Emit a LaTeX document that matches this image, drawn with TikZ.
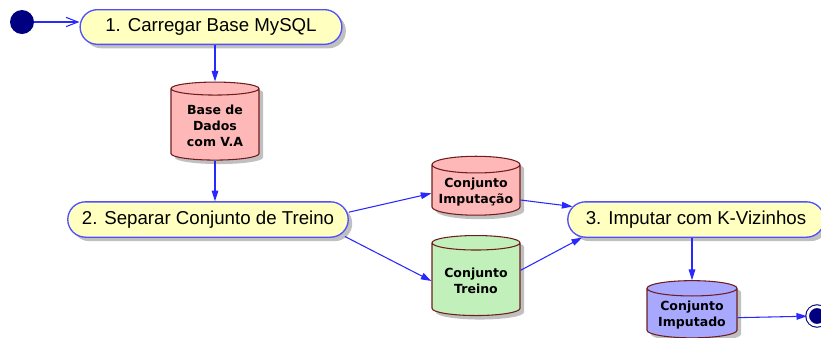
\documentclass[tikz,border=0pt]{standalone}
\usepackage{fontspec}
\setmainfont{Liberation Sans}
\newfontfamily\dbfont{DejaVu Sans}
\usetikzlibrary{shapes.geometric, shapes.misc, shadows, arrows.meta}
\definecolor{boxblue}{RGB}{80,80,255}
\definecolor{boxfill}{RGB}{255,255,192}
\definecolor{arrowblue}{RGB}{40,40,255}
\definecolor{shadowgray}{RGB}{192,192,192}
\definecolor{storeborder}{RGB}{110,30,30}
\definecolor{storepink}{RGB}{255,184,184}
\definecolor{storegreen}{RGB}{194,240,186}
\definecolor{storeblue}{RGB}{168,168,255}
\definecolor{navy}{RGB}{0,0,128}
\tikzset{
	activity/.style={rounded rectangle, draw=boxblue, fill=boxfill, line width=1pt,
		font=\fontsize{14}{16}\selectfont,
		drop shadow={shadow xshift=3pt, shadow yshift=-3pt, fill=shadowgray, opacity=1}},
	datastore/.style={cylinder, shape border rotate=90, aspect=0.2, draw=storeborder,
		line width=0.8pt, align=center, minimum width=66pt,
		font=\dbfont\bfseries\fontsize{9.4}{12}\selectfont,
		drop shadow={shadow xshift=3pt, shadow yshift=-3pt, fill=shadowgray, opacity=1}},
	flow/.style={draw=arrowblue, line width=0.8pt, -{Triangle[length=8pt,width=5pt]}}
}

\begin{document}
\begin{tikzpicture}[x=0.75pt,y=-0.75pt]
\useasboundingbox (0,0) rectangle (821,337);
\clip (0,0) rectangle (821,337);

\node[circle, fill=navy, minimum size=18pt, inner sep=0pt] (start) at (22,22) {};
\node[activity, minimum width=203pt, minimum height=26pt] (load) at (211,27) {1. Carregar Base MySQL};
\node[datastore, fill=storepink, minimum height=58.5pt] (basedados) at (215,126) {Base de\\Dados\\com V.A};
\node[activity, minimum width=217pt, minimum height=26.5pt] (separar) at (208,219.5) {2. Separar Conjunto de Treino};
\node[datastore, fill=storepink, minimum height=42pt] (cjimput) at (476,192) {Conjunto\\Imputação};
\node[datastore, fill=storegreen, minimum height=60pt] (cjtreino) at (476,281) {Conjunto\\Treino};
\node[activity, minimum width=199pt, minimum height=26.5pt] (imputar) at (696,219.5) {3. Imputar com K-Vizinhos};
\node[datastore, fill=storeblue, minimum width=67.5pt, minimum height=40.5pt] (cjimputado) at (692,315) {Conjunto\\Imputado};
\node[circle, fill=navy, draw=navy, double=white, double distance=2pt, line width=0.8pt, minimum size=14pt, inner sep=0pt] (finish) at (817,316) {};

\draw[draw=arrowblue, line width=0.8pt, -{Straight Barb[length=9pt,width=7pt]}] (start) -- (load.west |- start);
\draw[flow] (load.south -| basedados.north) -- (basedados.north);
\draw[flow] (basedados.south) -- (basedados.south |- separar.north);
\draw[flow] ([yshift=5.5pt]separar.east) -- ([yshift=-1pt]cjimput.west);
\draw[flow] ([xshift=-3pt,yshift=1pt]separar.south -| separar.east) -- (cjtreino.west);
\draw[flow] ([yshift=-6pt]cjimput.east) -- (imputar.174);
\draw[flow] ([yshift=8pt]cjtreino.east) -- (imputar.189);
\draw[flow] (imputar.south -| cjimputado.north) -- (cjimputado.north);
\draw[flow] ([yshift=-2pt]cjimputado.east) -- (finish);
\end{tikzpicture}
\end{document}
